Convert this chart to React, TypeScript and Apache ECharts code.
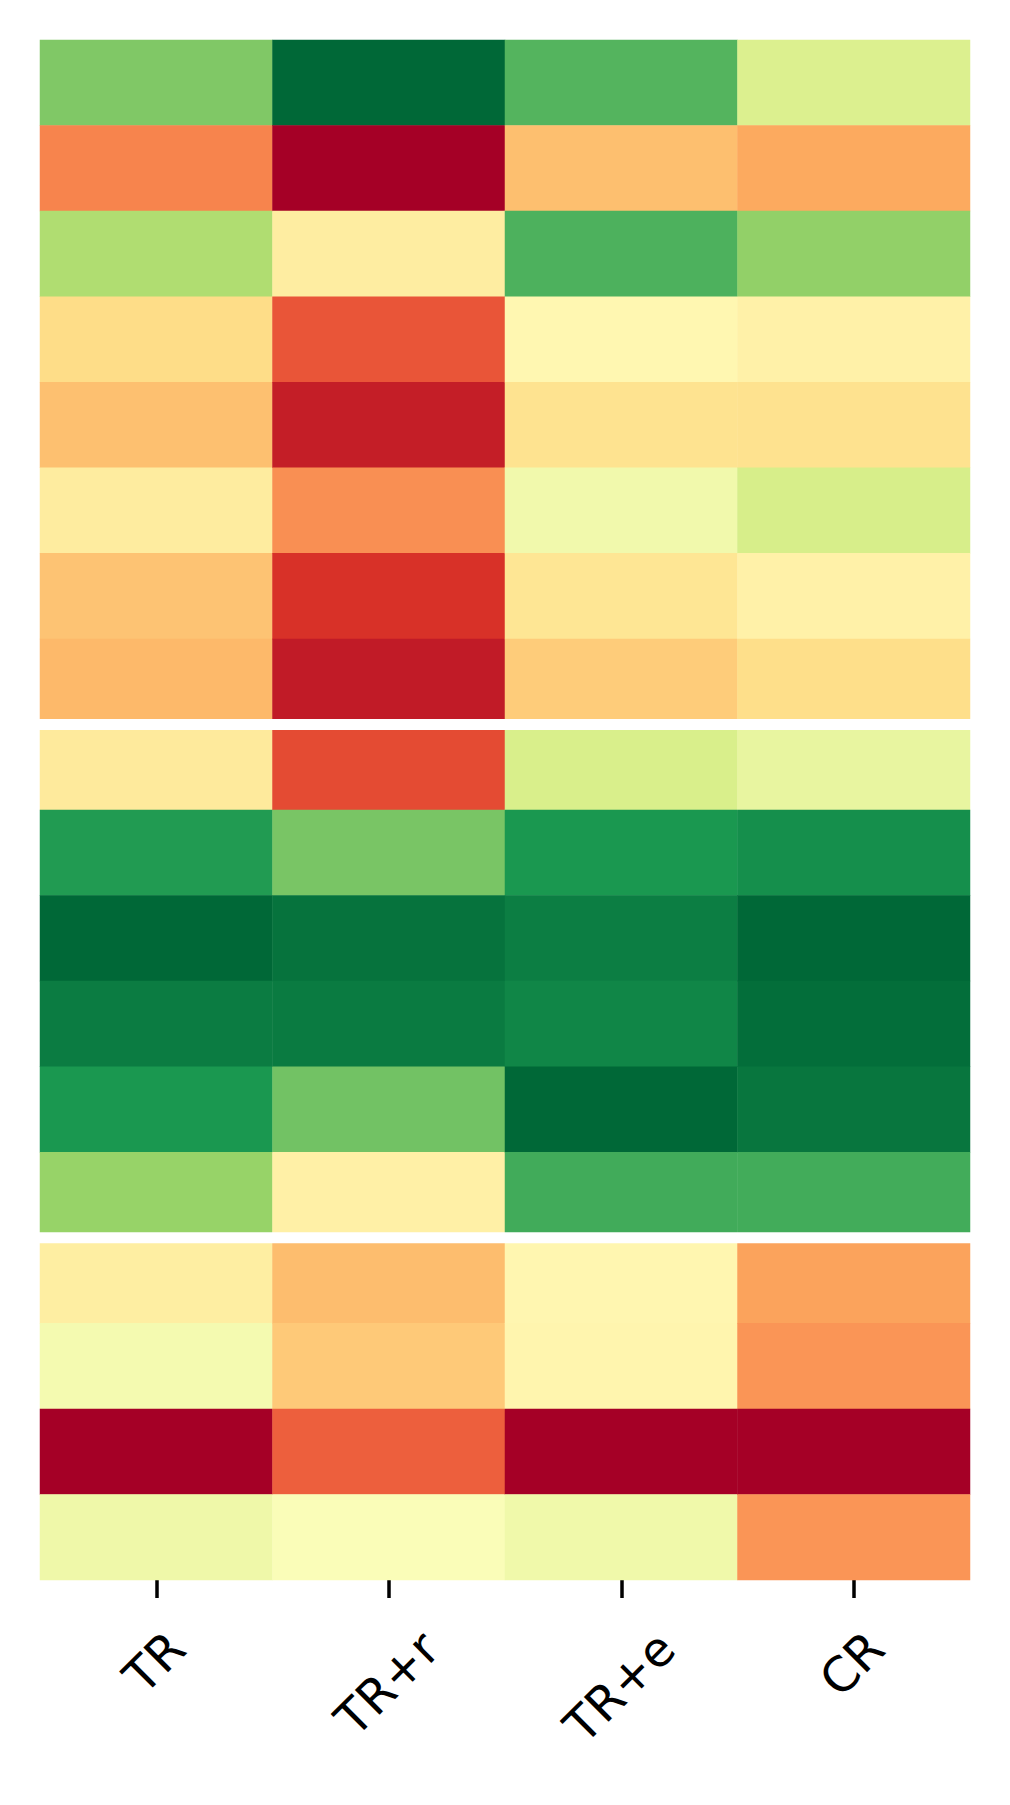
import React, { useEffect, useRef } from "react";
import * as echarts from "echarts";

// Column (method) labels
const methods = ["TR", "TR+r", "TR+e", "CR"];

// Row identifiers (18 rows, three groups)
const rowIds = [
  "r1", "r2", "r3", "r4", "r5", "r6", "r7", "r8",
  "r9", "r10", "r11", "r12", "r13", "r14",
  "r15", "r16", "r17", "r18",
];

// Values per column (normalised score 0..1)
const valsTR = [0.759, 0.235, 0.68, 0.394, 0.336, 0.439, 0.342, 0.322, 0.432, 0.891, 1.0, 0.958, 0.9, 0.723, 0.445, 0.529, 0.0, 0.542];
const valsTRr = [1.0, 0.0, 0.442, 0.161, 0.062, 0.252, 0.102, 0.056, 0.144, 0.77, 0.977, 0.96, 0.781, 0.452, 0.33, 0.354, 0.177, 0.513];
const valsTRe = [0.824, 0.334, 0.833, 0.474, 0.41, 0.537, 0.418, 0.36, 0.6, 0.9, 0.954, 0.9375, 1.0, 0.849, 0.471, 0.468, 0.0, 0.54];
const valsCR = [0.592, 0.294, 0.731, 0.455, 0.408, 0.603, 0.455, 0.397, 0.56, 0.918, 1.0, 0.9875, 0.971, 0.847, 0.283, 0.262, 0.0, 0.262];

// Row indices at which a group separator is drawn
const separators = [8, 14];

const RDYLGN = [
  "#a50026", "#d73027", "#f46d43", "#fdae61", "#fee08b", "#ffffbf",
  "#d9ef8b", "#a6d96a", "#66bd63", "#1a9850", "#006837",
];

const FONT_SIZE = 48;
const FONT_FAMILY = '"DejaVu Sans", sans-serif';

export default function App() {
  const ref = useRef<HTMLDivElement | null>(null);

  useEffect(() => {
    if (!ref.current) return;
    const chart = echarts.init(ref.current, undefined, { renderer: "svg" });
    const columns = [valsTR, valsTRr, valsTRe, valsCR];
    const data: number[][] = [];
    columns.forEach((col, ci) => {
      col.forEach((v, ri) => data.push([ci, ri, v]));
    });

    chart.setOption({
      animation: false,
      backgroundColor: "#ffffff",
      grid: { left: 40, right: 40, top: 40, bottom: 225, containLabel: false },
      xAxis: {
        type: "category",
        data: methods,
        position: "bottom",
        axisLine: { show: false },
        axisTick: {
          show: true,
          alignWithLabel: true,
          length: 18,
          lineStyle: { color: "#000000", width: 3.5 },
        },
        axisLabel: { show: false },
        splitLine: { show: false },
      },
      yAxis: {
        type: "category",
        data: rowIds,
        inverse: true,
        show: false,
      },
      visualMap: {
        type: "continuous",
        show: false,
        min: 0,
        max: 1,
        dimension: 2,
        seriesIndex: 0,
        inRange: { color: RDYLGN },
      },
      series: [
        {
          type: "heatmap",
          data,
          itemStyle: { borderWidth: 0 },
          emphasis: { disabled: true },
        },
        {
          type: "custom",
          coordinateSystem: "cartesian2d",
          silent: true,
          z: 10,
          encode: { x: 0, y: 1 },
          data: separators.map((s) => [0, s]),
          renderItem: (params: any, api: any) => {
            const idx = api.value(1);
            const a = api.coord([0, idx - 1])[1];
            const b = api.coord([0, idx])[1];
            const mid = (a + b) / 2;
            const cs = params.coordSys;
            return {
              type: "rect",
              shape: { x: cs.x - 2, y: mid - 5.5, width: cs.width + 4, height: 11 },
              style: { fill: "#ffffff" },
            };
          },
        },
      ],
    });

    // Rotated tick labels, centred under their ticks (matplotlib-like)
    const canvas = document.createElement("canvas");
    const ctx = canvas.getContext("2d");
    if (ctx) ctx.font = `${FONT_SIZE}px ${FONT_FAMILY}`;
    const last = chart.convertToPixel({ xAxisIndex: 0, yAxisIndex: 0 } as any, [0, rowIds.length - 1]) as number[];
    const prev = chart.convertToPixel({ xAxisIndex: 0, yAxisIndex: 0 } as any, [0, rowIds.length - 2]) as number[];
    const gridBottom = last[1] + (last[1] - prev[1]) / 2;
    const graphics = methods.map((m) => {
      const x = chart.convertToPixel({ xAxisIndex: 0 } as any, m) as unknown as number;
      const w = ctx ? ctx.measureText(m).width : m.length * FONT_SIZE * 0.6;
      const cy = gridBottom + 60 + w / (2 * Math.SQRT2);
      return {
        type: "text",
        x: x - 2,
        y: cy,
        rotation: Math.PI / 4,
        silent: true,
        style: {
          text: m,
          font: `${FONT_SIZE}px ${FONT_FAMILY}`,
          fill: "#000000",
          align: "center",
          verticalAlign: "middle",
        },
      };
    });
    chart.setOption({ graphic: graphics });

    return () => chart.dispose();
  }, []);

  return (
    <div
      ref={ref}
      style={{ position: "absolute", left: 0, top: 0, width: 1010, height: 1805, background: "#fff" }}
    />
  );
}
